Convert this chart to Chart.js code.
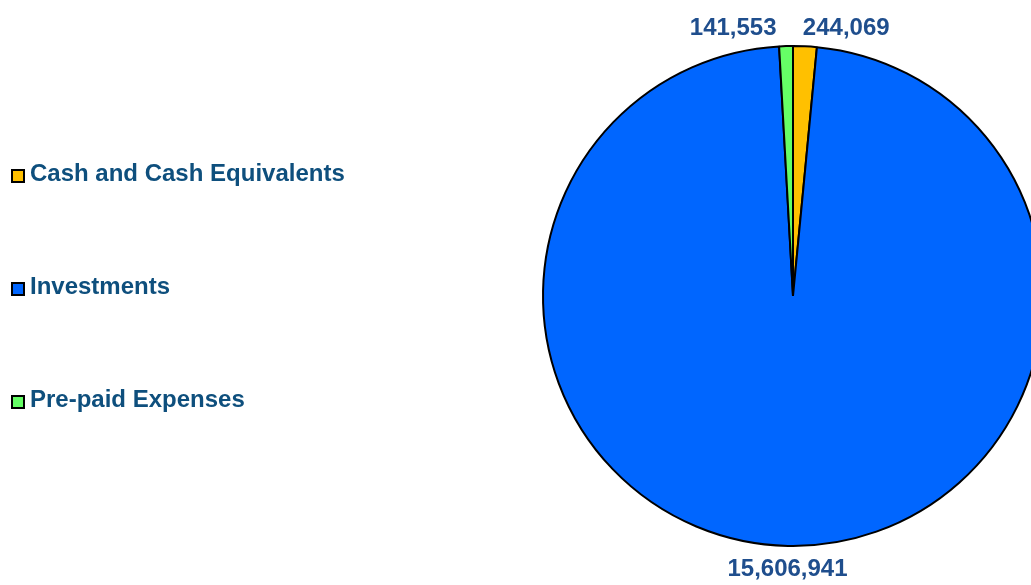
<!DOCTYPE html>
<html>
<head>
<meta charset="utf-8">
<script src="https://cdn.jsdelivr.net/npm/chart.js@4"></script>
<style>
  html, body { margin: 0; padding: 0; background: #fff; overflow: hidden; }
  #wrap { width: 1031px; height: 585px; overflow: hidden; position: relative; }
</style>
</head>
<body>
<div id="wrap"><canvas id="pieChart" width="1060" height="585"></canvas></div>
<script>
// dados do gráfico
const categorias = ['Cash and Cash Equivalents', 'Investments', 'Pre-paid Expenses'];
const valores = [244069, 15606941, 141553];
const cores = ['#FFC000', '#0066FF', '#66FF66'];

const corLegenda = '#0E4F7D';
const corRotulos = '#1F4E8D';
const fonte = '"Liberation Sans", Arial, sans-serif';

function formatar(n) {
    return n.toLocaleString('en-US');
}

// legenda à esquerda e rótulos de valores fora da pizza
const rotulosPlugin = {
    id: 'rotulos',
    afterDraw(chart) {
        const ctx = chart.ctx;
        ctx.save();

        // legenda
        ctx.font = 'bold 24px ' + fonte;
        ctx.textBaseline = 'middle';
        ctx.textAlign = 'left';
        categorias.forEach((nome, i) => {
            const y = 176 + i * 113;
            ctx.fillStyle = cores[i];
            ctx.fillRect(12, y - 6, 12, 12);
            ctx.lineWidth = 2;
            ctx.strokeStyle = '#000';
            ctx.strokeRect(12, y - 6, 12, 12);
            ctx.fillStyle = corLegenda;
            ctx.fillText(nome, 30, y - 2);
        });

        // valores
        const meta = chart.getDatasetMeta(0);
        ctx.font = 'bold 24px ' + fonte;
        ctx.fillStyle = corRotulos;
        meta.data.forEach((arc, i) => {
            const p = arc.getProps(['x', 'y', 'startAngle', 'endAngle', 'outerRadius'], true);
            const meio = (p.startAngle + p.endAngle) / 2;
            const ux = Math.cos(meio), uy = Math.sin(meio);
            const dist = p.outerRadius + (uy < 0 ? 18 : 23);
            let x = p.x + ux * dist;
            const y = p.y + uy * dist;
            if (Math.abs(ux) < 0.025) {
                ctx.textAlign = 'center';
            } else if (ux < 0) {
                ctx.textAlign = 'right';
                x -= 9;
            } else {
                ctx.textAlign = 'left';
                x -= 3;
            }
            ctx.fillText(formatar(valores[i]), x, y);
        });
        ctx.restore();
    }
};

document.addEventListener('DOMContentLoaded', () => {
    const ctx = document.getElementById('pieChart').getContext('2d');
    new Chart(ctx, {
        type: 'pie',
        data: {
            labels: categorias,
            datasets: [{
                data: valores,
                backgroundColor: cores,
                borderColor: '#000',
                borderWidth: 2,
                borderAlign: 'center'
            }]
        },
        options: {
            responsive: false,
            animation: false,
            layout: { padding: { left: 542, right: 16, top: 45, bottom: 38 } },
            plugins: {
                legend: { display: false },
                tooltip: { enabled: false }
            }
        },
        plugins: [rotulosPlugin]
    });
});
</script>
</body>
</html>
